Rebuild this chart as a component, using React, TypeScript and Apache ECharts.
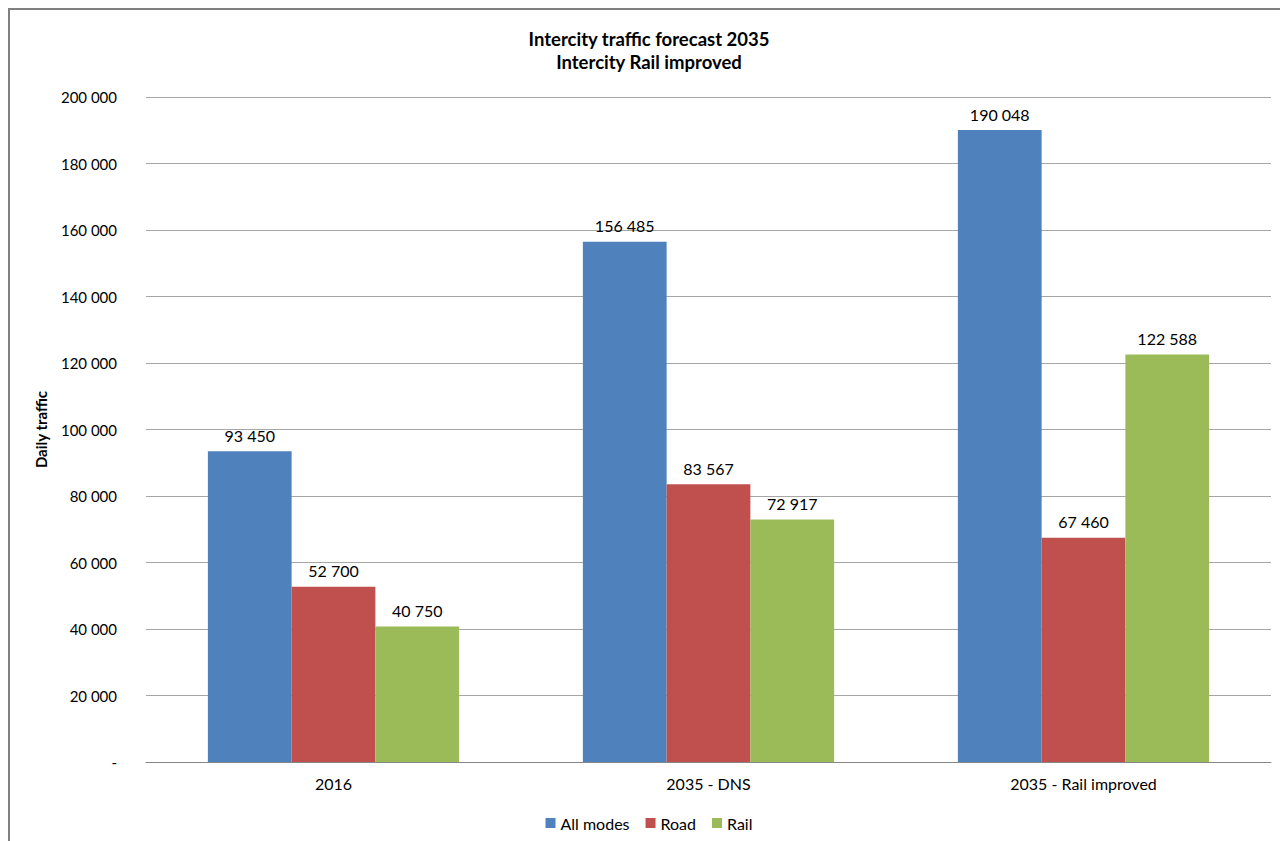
import React, { useEffect, useRef } from "react";
import * as echarts from "echarts";

const categories = ["2016", "2035 - DNS", "2035 - Rail improved"];
const allModes = [93450, 156485, 190048];
const road = [52700, 83567, 67460];
const rail = [40750, 72917, 122588];
const seriesNames = ["All modes", "Road", "Rail"];
const colors = ["#4F81BD", "#C0504D", "#9BBB59"];

const fmt = (v: number) =>
  v === 0 ? "-" : String(Math.round(v)).replace(/\B(?=(\d{3})+(?!\d))/g, " ");

const FONT = "Lato";

export default function App() {
  const ref = useRef<HTMLDivElement>(null);
  useEffect(() => {
    if (!ref.current) return;
    const chart = echarts.init(ref.current, undefined, { renderer: "svg" });
    const data = [allModes, road, rail];
    chart.setOption({
      animation: false,
      backgroundColor: "#ffffff",
      textStyle: { fontFamily: FONT },
      title: {
        text: "Intercity traffic forecast 2035\nIntercity Rail improved",
        left: "center",
        top: 12,
        textStyle: {
          fontFamily: FONT,
          fontSize: 18.5,
          fontWeight: "bold",
          color: "#000",
          lineHeight: 23,
        },
      },
      legend: {
        bottom: 5,
        left: "center",
        itemWidth: 10,
        itemHeight: 10,
        itemGap: 16,
        icon: "rect",
        textStyle: { fontFamily: FONT, fontSize: 16, color: "#000" },
        data: seriesNames,
      },
      grid: { left: 136, right: 17, top: 87, bottom: 79 },
      xAxis: {
        type: "category",
        data: categories,
        axisLine: { show: true, lineStyle: { color: "#868686", width: 1 } },
        axisTick: { show: false },
        axisLabel: { fontFamily: FONT, fontSize: 16, color: "#000", margin: 13 },
      },
      yAxis: {
        type: "value",
        min: 0,
        max: 200000,
        interval: 20000,
        name: "Daily traffic",
        nameLocation: "middle",
        nameRotate: 90,
        nameGap: 98,
        nameTextStyle: { fontFamily: FONT, fontSize: 15, fontWeight: "bold", color: "#000" },
        axisLine: { show: false },
        axisTick: { show: false },
        splitLine: { lineStyle: { color: "#a6a6a6", width: 1 } },
        axisLabel: {
          fontFamily: FONT,
          fontSize: 15,
          color: "#000",
          margin: 29,
          formatter: (v: number) => fmt(v),
        },
      },
      series: seriesNames.map((name, i) => ({
        name,
        type: "bar",
        data: data[i],
        barGap: "0%",
        barCategoryGap: "33%",
        itemStyle: { color: colors[i] },
        label: {
          show: true,
          position: "top",
          distance: 8,
          fontFamily: FONT,
          fontSize: 16,
          color: "#000",
          formatter: (p: any) => fmt(p.value),
        },
      })),
    });
    return () => chart.dispose();
  }, []);
  return (
    <div
      ref={ref}
      style={{
        width: 1280,
        height: 833,
        boxSizing: "border-box",
        borderTop: "2px solid #808080",
        borderLeft: "2px solid #808080",
      }}
    />
  );
}
